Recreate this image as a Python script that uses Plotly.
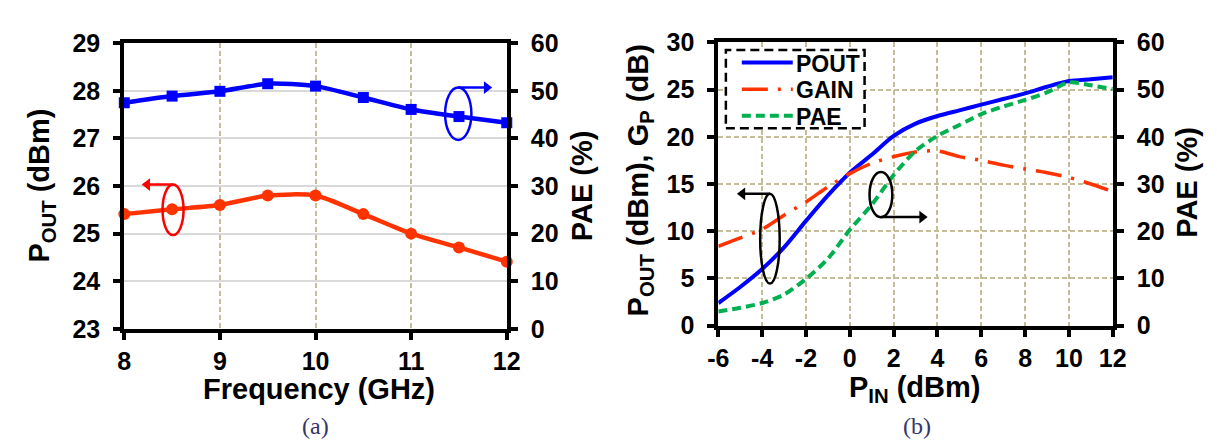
import plotly.graph_objects as go

W, H = 1217, 447

# ---------------- panel (a): output power / PAE vs frequency ----------------
freq_ghz = [8, 8.5, 9, 9.5, 10, 10.5, 11, 11.5, 12]
pout_a_dbm = [25.41, 25.51, 25.60, 25.80, 25.80, 25.41, 25.00, 24.71, 24.41]
pae_a_pct = [47.5, 48.9, 49.9, 51.5, 51.0, 48.6, 46.1, 44.6, 43.3]
xticks_a = [8, 9, 10, 11, 12]

# ---------------- panel (b): sweep vs input power ----------------
pin_dbm = [-6, -5, -4, -3, -2, -1, 0, 1, 2, 3, 4, 5, 6, 7, 8, 9, 10, 11, 12]
pout_b_dbm = [2.4, 4.1, 6.0, 8.3, 11.1, 13.8, 16.2, 18.1, 20.1, 21.4, 22.2, 22.8, 23.4, 24.0, 24.6, 25.3, 25.9, 26.1, 26.3]
gain_b_db = [8.4, 9.3, 10.2, 11.7, 13.1, 14.7, 16.1, 17.2, 17.9, 18.4, 18.5, 17.9, 17.5, 17.0, 16.6, 16.2, 15.7, 15.0, 14.2]
pae_b_pct = [3.0, 3.8, 4.8, 6.6, 9.9, 14.2, 20.3, 25.6, 31.9, 37.0, 40.2, 42.5, 44.8, 46.4, 47.8, 49.4, 51.5, 50.9, 50.1]
series_b = ["POUT", "GAIN", "PAE"]
xticks_b = [-6, -4, -2, 0, 2, 4, 6, 8, 10, 12]

captions = ["(a)", "(b)"]

# ---------------- styles ----------------
FONT = "Liberation Sans, Arial, sans-serif"
SERIF = "Liberation Serif, Times New Roman, serif"
BLUE = "#0000ff"
RED = "#ff3300"
GREEN = "#00b050"
TAN = "#c4bd97"
LGRAY = "#d9d9d9"
GAIN_DASH = "26px,10px,3px,10px"
PAE_DASH = "9px,5px"


def px(x):
    return x / W


def py(y):
    return 1 - y / H


fig = go.Figure()

# panel (a)
fig.add_trace(go.Scatter(
    x=freq_ghz, y=pout_a_dbm, mode="lines+markers", name="POUT",
    line=dict(color=RED, width=4.5, shape="spline", smoothing=0.7),
    marker=dict(symbol="circle", size=12, color=RED),
    xaxis="x", yaxis="y", cliponaxis=False, showlegend=False))
fig.add_trace(go.Scatter(
    x=freq_ghz, y=pae_a_pct, mode="lines+markers", name="PAE",
    line=dict(color=BLUE, width=4.5, shape="spline", smoothing=0.7),
    marker=dict(symbol="square", size=11, color=BLUE),
    xaxis="x", yaxis="y2", cliponaxis=False, showlegend=False))

# panel (b)
fig.add_trace(go.Scatter(
    x=pin_dbm, y=pout_b_dbm, mode="lines", name=series_b[0],
    line=dict(color=BLUE, width=4, shape="spline", smoothing=0.8),
    xaxis="x2", yaxis="y3", cliponaxis=False, showlegend=False))
fig.add_trace(go.Scatter(
    x=pin_dbm, y=gain_b_db, mode="lines", name=series_b[1],
    line=dict(color=RED, width=3.5, dash=GAIN_DASH, shape="spline", smoothing=0.8),
    xaxis="x2", yaxis="y3", cliponaxis=False, showlegend=False))
fig.add_trace(go.Scatter(
    x=pin_dbm, y=pae_b_pct, mode="lines", name=series_b[2],
    line=dict(color=GREEN, width=4, dash=PAE_DASH, shape="spline", smoothing=0.8),
    xaxis="x2", yaxis="y4", cliponaxis=False, showlegend=False))

tickfont = dict(family=FONT, size=25, color="black", weight="bold")
axis_common = dict(showline=True, linecolor="black", linewidth=4,
                   ticks="outside", ticklen=7, tickwidth=4, tickcolor="black",
                   tickfont=tickfont, zeroline=False, fixedrange=True)
ystand = dict(ticklabelstandoff=8)

dom_xa = [px(107.5), px(498)]
dom_ya = [py(327.3), py(22.7)]
dom_xb = [px(714), px(1116.7)]
dom_yb = [py(324), py(21.7)]

fig.update_layout(
    width=W, height=H,
    margin=dict(l=0, r=0, t=0, b=0),
    paper_bgcolor="white", plot_bgcolor="white",
    showlegend=False,
    xaxis=dict(axis_common, domain=dom_xa, range=[8, 12], tickvals=xticks_a,
               ticktext=[str(v) for v in xticks_a],
               anchor="y", mirror=True, showgrid=True, gridcolor=TAN,
               gridwidth=1.5, griddash="5px,3px"),
    yaxis=dict(axis_common, **ystand, domain=dom_ya, range=[23, 29], dtick=1,
               anchor="x", showgrid=True, gridcolor=LGRAY, gridwidth=1.5),
    yaxis2=dict(axis_common, **ystand, range=[0, 60], dtick=10, overlaying="y",
                side="right", anchor="x", showgrid=False),
    xaxis2=dict(axis_common, domain=dom_xb, range=[-6, 12], tickvals=xticks_b,
                ticktext=[str(v) for v in xticks_b],
                anchor="y3", mirror=True, showgrid=True, gridcolor=TAN,
                gridwidth=1.5, griddash="5px,3px"),
    yaxis3=dict(axis_common, **ystand, domain=dom_yb, range=[0, 30], dtick=5,
                anchor="x2", showgrid=True, gridcolor=TAN, gridwidth=1.5,
                griddash="5px,3px"),
    yaxis4=dict(axis_common, **ystand, range=[0, 60], dtick=10, overlaying="y3",
                side="right", anchor="x2", showgrid=False),
)

shapes = []
annotations = []


def callout(xref, yref, ell, tail, head, color):
    """Ellipse plus a horizontal arrow (line shape + triangle head marker)."""
    x0, x1, y0, y1 = ell
    shapes.append(dict(type="circle", xref=xref, yref=yref, x0=x0, x1=x1,
                       y0=y0, y1=y1, line=dict(color=color, width=2.5)))
    shapes.append(dict(type="line", xref=xref, yref=yref, x0=tail[0],
                       x1=head[0], y0=tail[1], y1=head[1],
                       line=dict(color=color, width=2.5)))
    sym = "triangle-right" if head[0] > tail[0] else "triangle-left"
    fig.add_trace(go.Scatter(
        x=[head[0]], y=[head[1]], mode="markers", hoverinfo="skip",
        marker=dict(symbol=sym, size=11, color=color, line=dict(width=0)),
        xaxis=xref, yaxis=yref, cliponaxis=False, showlegend=False))


callout("x", "y", (8.40, 8.62, 24.97, 26.03), (8.51, 26.03), (8.24, 26.03), "#ff0000")
callout("x", "y", (11.355, 11.63, 26.97, 28.07), (11.49, 28.07), (11.79, 28.07), BLUE)
callout("x2", "y3", (-4.09, -3.2, 4.46, 13.96), (-3.64, 13.96), (-4.9, 13.96), "black")
callout("x2", "y3", (0.90, 1.94, 11.48, 16.27), (1.42, 11.5), (3.3, 11.5), "black")

# legend box for panel (b)
shapes.append(dict(type="rect", xref="paper", yref="paper",
                   x0=px(721.7), x1=px(863.3), y0=py(113.3), y1=py(30),
                   line=dict(color="black", width=2.5, dash="9px,5px"),
                   fillcolor="white", layer="above"))
leg_styles = [dict(color=BLUE, width=4, dash="solid"),
              dict(color=RED, width=3.5, dash=GAIN_DASH),
              dict(color=GREEN, width=4, dash=PAE_DASH)]
leg_rows = [43.3, 71.7, 100.0]
for name, st, yy in zip(series_b, leg_styles, leg_rows):
    shapes.append(dict(type="line", xref="paper", yref="paper",
                       x0=px(738), x1=px(790), y0=py(yy), y1=py(yy),
                       line=st, layer="above"))
    annotations.append(dict(xref="paper", yref="paper", x=px(791), y=py(yy + 1),
                            xanchor="left", yanchor="middle", showarrow=False,
                            text=name, font=dict(family=FONT, size=23,
                                                 color="black", weight="bold")))

title_font = dict(family=FONT, size=29, color="black", weight="bold")


def title(text, x, y, angle=0):
    annotations.append(dict(xref="paper", yref="paper", x=px(x), y=py(y),
                            xanchor="center", yanchor="middle", showarrow=False,
                            text=text, textangle=angle, font=title_font))


title("P<sub>OUT</sub> (dBm)", 23, 175, -90)
title("PAE (%)", 575, 175, -90)
title("Frequency (GHz)", 306.5, 392)
title("P<sub>OUT</sub> (dBm), G<sub>P</sub> (dB)", 634, 169, -90)
title("PAE (%)", 1193, 171, -90)
title("P<sub>IN</sub> (dBm)", 914.5, 392)

for cap, cx in zip(captions, [303, 917]):
    annotations.append(dict(xref="paper", yref="paper", x=px(cx), y=py(431),
                            xanchor="center", yanchor="middle", showarrow=False,
                            text=cap, font=dict(family=SERIF, size=24,
                                                color="#33366b")))

fig.update_layout(shapes=shapes, annotations=annotations)
fig.write_html("out.html")
